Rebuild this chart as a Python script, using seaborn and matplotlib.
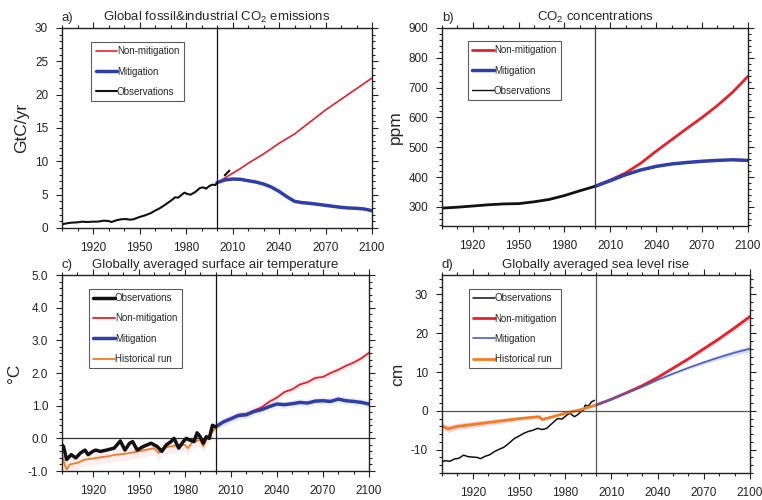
import numpy as np
import pandas as pd
import matplotlib
matplotlib.use("Agg")
import matplotlib.pyplot as plt
from matplotlib.ticker import MultipleLocator, FixedLocator
import seaborn as sns

# ---------------- data ----------------
# a) fossil & industrial CO2 emissions (GtC/yr)
emis_obs_years = [1900, 1903, 1906, 1910, 1913, 1916, 1920, 1923, 1927, 1930, 1932, 1935, 1938, 1941, 1944, 1946,
                  1950, 1953, 1957, 1960, 1963, 1966, 1970, 1973, 1975, 1977, 1979, 1981, 1983, 1986, 1989, 1991,
                  1993, 1995, 1997, 1999, 2000]
emis_obs_vals = [0.55, 0.7, 0.8, 0.85, 0.95, 0.9, 0.95, 0.95, 1.1, 1.05, 0.9, 1.15, 1.3, 1.35, 1.25, 1.3,
                 1.65, 1.85, 2.2, 2.6, 2.95, 3.4, 4.05, 4.6, 4.55, 4.95, 5.3, 5.1, 5.0, 5.4, 6.0, 6.1,
                 5.9, 6.3, 6.5, 6.45, 6.75]
emis_obs2_years = [2005, 2008]
emis_obs2_vals = [7.9, 8.6]
emis_years = [2000, 2005, 2010, 2015, 2020, 2025, 2030, 2035, 2040, 2045, 2050, 2055, 2060, 2065, 2070,
              2075, 2080, 2085, 2090, 2095, 2100]
emis_nonmit = [6.8, 7.5, 8.2, 8.9, 9.7, 10.4, 11.1, 11.9, 12.7, 13.4, 14.1, 15.0, 15.9, 16.8, 17.7,
               18.5, 19.3, 20.1, 20.9, 21.7, 22.5]
emis_mit = [6.8, 7.2, 7.35, 7.3, 7.1, 6.9, 6.6, 6.15, 5.5, 4.7, 4.0, 3.8, 3.7, 3.55, 3.4,
            3.25, 3.1, 3.0, 2.95, 2.85, 2.6]

# b) CO2 concentrations (ppm)
conc_obs_years = [1900, 1910, 1920, 1930, 1940, 1950, 1960, 1970, 1980, 1990, 2000]
conc_obs_vals = [296, 299, 303, 307, 310, 311, 317, 325, 338, 354, 369]
conc_years = [2000, 2010, 2020, 2030, 2040, 2050, 2060, 2070, 2080, 2090, 2100]
conc_nonmit = [369, 390, 414, 447, 487, 525, 563, 600, 640, 685, 738]
conc_mit = [369, 388, 408, 424, 436, 444, 449, 453, 456, 458, 456]

# c) globally averaged surface air temperature (degC)
tas_obs_years = [1900, 1901, 1903, 1906, 1909, 1912, 1915, 1917, 1920, 1922, 1925, 1929, 1934, 1938, 1941, 1944,
                 1946, 1949, 1953, 1958, 1962, 1965, 1968, 1971, 1973, 1976, 1979, 1981, 1983, 1986, 1988,
                 1990, 1992, 1994, 1996, 1998, 2000]
tas_obs_vals = [-0.2, -0.25, -0.65, -0.5, -0.6, -0.45, -0.36, -0.5, -0.4, -0.36, -0.4, -0.36, -0.3, -0.08, -0.36, -0.15,
                -0.1, -0.36, -0.25, -0.15, -0.25, -0.4, -0.2, -0.1, 0.0, -0.3, -0.1, 0.0, -0.05, -0.1, 0.17,
                0.05, -0.15, 0.05, 0.0, 0.4, 0.35]
tas_hist_years = [1900, 1902, 1903, 1905, 1910, 1915, 1920, 1925, 1930, 1935, 1940, 1945, 1950, 1955, 1960,
                  1963, 1965, 1970, 1975, 1980, 1982, 1985, 1990, 1992, 1995, 1998, 2000]
tas_hist_vals = [-0.5, -0.85, -0.95, -0.8, -0.75, -0.65, -0.62, -0.58, -0.55, -0.5, -0.48, -0.44, -0.4, -0.35, -0.3,
                 -0.45, -0.32, -0.25, -0.22, -0.2, -0.3, -0.12, -0.05, -0.25, 0.05, 0.2, 0.3]
tas_hist_spread = [0.15, 0.2, 0.2, 0.2, 0.2, 0.2, 0.2, 0.2, 0.2, 0.2, 0.2, 0.2, 0.2, 0.2, 0.2,
                   0.25, 0.2, 0.2, 0.2, 0.2, 0.2, 0.2, 0.2, 0.2, 0.2, 0.2, 0.2]
tas_years = [2000, 2005, 2010, 2015, 2020, 2025, 2030, 2035, 2040, 2045, 2050, 2055, 2060, 2065, 2070,
             2075, 2080, 2085, 2090, 2095, 2100]
tas_nonmit = [0.35, 0.5, 0.6, 0.72, 0.75, 0.85, 0.95, 1.12, 1.25, 1.42, 1.5, 1.65, 1.72, 1.85, 1.88,
              2.0, 2.1, 2.22, 2.32, 2.45, 2.62]
tas_mit = [0.35, 0.5, 0.6, 0.7, 0.72, 0.82, 0.88, 0.97, 1.05, 1.03, 1.06, 1.1, 1.08, 1.14, 1.15,
           1.13, 1.2, 1.15, 1.13, 1.1, 1.05]
tas_spread = [0.1, 0.12, 0.12, 0.12, 0.12, 0.12, 0.12, 0.12, 0.12, 0.12, 0.12, 0.12, 0.12, 0.12, 0.12,
              0.12, 0.12, 0.12, 0.12, 0.12, 0.12]

# d) globally averaged sea level rise (cm)
slr_obs_years = [1900, 1902, 1905, 1908, 1911, 1914, 1917, 1920, 1923, 1925, 1928, 1931, 1934, 1936, 1940,
                 1943, 1947, 1950, 1953, 1956, 1959, 1962, 1965, 1968, 1971, 1975, 1978, 1981, 1983, 1986,
                 1988, 1990, 1992, 1993, 1995, 1997, 1999]
slr_obs_vals = [-13.2, -12.8, -13.0, -12.4, -12.2, -11.4, -11.8, -11.9, -12.0, -12.3, -11.7, -11.3, -10.5, -10.1, -9.4,
                -8.5, -7.1, -6.5, -5.8, -5.3, -5.0, -4.5, -4.8, -4.5, -3.4, -2.0, -2.1, -1.1, -0.6, -1.5,
                -1.0, -0.3, 0.2, 1.5, 1.2, 2.3, 2.7]
slr_hist_years = [1900, 1902, 1904, 1910, 1920, 1930, 1940, 1950, 1960, 1963, 1965, 1970, 1980, 1990, 2000]
slr_hist_vals = [-3.8, -4.3, -4.6, -4.0, -3.5, -3.0, -2.5, -2.0, -1.6, -1.5, -2.2, -1.7, -0.6, 0.3, 1.5]
slr_hist_spread = [0.8, 0.8, 0.9, 0.8, 0.8, 0.7, 0.6, 0.5, 0.4, 0.4, 0.4, 0.3, 0.3, 0.2, 0.2]
slr_years = [2000, 2010, 2020, 2030, 2040, 2050, 2060, 2070, 2080, 2090, 2100]
slr_nonmit = [1.5, 3.0, 4.7, 6.5, 8.6, 11.0, 13.4, 16.0, 18.6, 21.4, 24.3]
slr_mit = [1.5, 3.0, 4.6, 6.2, 8.0, 9.6, 11.1, 12.5, 13.8, 15.0, 16.0]
slr_spread = [0.1, 0.1, 0.2, 0.2, 0.3, 0.3, 0.4, 0.5, 0.6, 0.7, 0.8]

# ---------------- style ----------------
sns.set_theme(style="ticks")
plt.rcParams["font.family"] = ["Liberation Sans", "DejaVu Sans"]
plt.rcParams["mathtext.fontset"] = "custom"
plt.rcParams["mathtext.rm"] = "Liberation Sans"
plt.rcParams["mathtext.it"] = "Liberation Sans:italic"
plt.rcParams["axes.unicode_minus"] = False

RED = "#e8202a"
BLUE = "#2e3fa8"
ORANGE = "#f47c20"
BLACK = "#111111"
PINK = "#f4a6b4"
LBLUE = "#9fb0e0"

W, H = 762, 500
fig = plt.figure(figsize=(W / 100, H / 100), dpi=100)


def add_ax(l, r, t, b):
    return fig.add_axes([l / W, 1 - b / H, (r - l) / W, (b - t) / H])


axa = add_ax(62, 372, 28, 228)
axb = add_ax(442, 748, 28, 226)
axc = add_ax(62, 369, 275, 471)
axd = add_ax(442, 750, 275, 473)


def line(ax, x, y, color, lw, label=None):
    df = pd.DataFrame({"x": x, "y": y})
    sns.lineplot(data=df, x="x", y="y", ax=ax, color=color, linewidth=lw, label=label,
                 estimator=None, sort=True, legend=bool(label))


def style_axis(ax, ylim, ymajor, yminor, ylabel, letter, title, yfmt=None):
    ax.set_xlim(1900, 2100)
    ax.set_ylim(*ylim)
    ax.xaxis.set_major_locator(FixedLocator([1920, 1950, 1980, 2010, 2040, 2070, 2100]))
    ax.xaxis.set_minor_locator(MultipleLocator(10))
    ax.yaxis.set_major_locator(ymajor)
    ax.yaxis.set_minor_locator(MultipleLocator(yminor))
    if yfmt:
        ax.yaxis.set_major_formatter(yfmt)
    ax.tick_params(which="both", direction="out", top=True, right=True, color="#222222", width=0.8)
    ax.tick_params(which="major", length=4, labelsize=8.5, labelcolor="#222222", pad=6)
    ax.tick_params(which="minor", length=2)
    for s in ax.spines.values():
        s.set_visible(True)
        s.set_linewidth(1.0)
        s.set_color("#222222")
    ax.set_xlabel("")
    ax.set_ylabel(ylabel, fontsize=12.5, labelpad=4)
    ax.set_title(title, fontsize=9.5, pad=5)
    ax.set_title(letter, fontsize=9.5, loc="left", pad=5)


def legend(ax, anchor):
    lg = ax.legend(loc="upper left", bbox_to_anchor=anchor, borderaxespad=0, fontsize=7,
                   frameon=True, fancybox=False, edgecolor="#333333", handlelength=2.2,
                   handletextpad=0.0, labelspacing=1.05, borderpad=0.45)
    lg.get_frame().set_linewidth(0.8)
    return lg


# ---------- a ----------
line(axa, emis_years, emis_nonmit, RED, 1.2, "Non-mitigation")
line(axa, emis_years, emis_mit, BLUE, 2.5, "Mitigation")
line(axa, emis_obs_years, emis_obs_vals, BLACK, 1.5, "Observations")
line(axa, emis_obs2_years, emis_obs2_vals, BLACK, 1.5)
axa.axvline(2000, color=BLACK, lw=0.9)
style_axis(axa, (0, 30), MultipleLocator(5), 1, "GtC/yr", "a)",
           "Global fossil&industrial CO$_2$ emissions")
legend(axa, (0.094, 0.93))

# ---------- b ----------
line(axb, conc_years, conc_nonmit, RED, 2.0, "Non-mitigation")
line(axb, conc_years, conc_mit, BLUE, 2.5, "Mitigation")
line(axb, conc_obs_years, conc_obs_vals, BLACK, 2.0, "Observations")
axb.axvline(2000, color="#444444", lw=0.9)
style_axis(axb, (236, 900), FixedLocator([300, 400, 500, 600, 700, 800, 900]), 20, "ppm", "b)",
           "CO$_2$ concentrations")
lgb = legend(axb, (0.085, 0.934))
lgb.get_lines()[2].set_linewidth(1.0)

# ---------- c ----------
axc.fill_between(tas_hist_years, np.array(tas_hist_vals) - np.array(tas_hist_spread),
                 np.array(tas_hist_vals) + np.array(tas_hist_spread), color=PINK, alpha=0.2, lw=0)
axc.fill_between(tas_years, np.array(tas_nonmit) - np.array(tas_spread),
                 np.array(tas_nonmit) + np.array(tas_spread), color=PINK, alpha=0.18, lw=0)
axc.fill_between(tas_years, np.array(tas_mit) - np.array(tas_spread),
                 np.array(tas_mit) + np.array(tas_spread), color=LBLUE, alpha=0.18, lw=0)
line(axc, tas_obs_years, tas_obs_vals, BLACK, 2.5, "Observations")
line(axc, tas_years, tas_nonmit, RED, 1.3, "Non-mitigation")
line(axc, tas_years, tas_mit, BLUE, 2.5, "Mitigation")
line(axc, tas_hist_years, tas_hist_vals, ORANGE, 1.3, "Historical run")
# keep observations on top
axc.lines[0].set_zorder(4)
axc.axvline(2000, color=BLACK, lw=0.9)
axc.axhline(0, color="#333333", lw=0.9)
style_axis(axc, (-1.0, 5.0), MultipleLocator(1.0), 0.2, "°C", "c)",
           "Globally averaged surface air temperature",
           yfmt=matplotlib.ticker.FormatStrFormatter("%.1f"))
legend(axc, (0.088, 0.929))

# ---------- d ----------
axd.fill_between(slr_hist_years, np.array(slr_hist_vals) - np.array(slr_hist_spread),
                 np.array(slr_hist_vals) + np.array(slr_hist_spread), color=PINK, alpha=0.5, lw=0)
axd.fill_between(slr_years, np.array(slr_nonmit) - np.array(slr_spread),
                 np.array(slr_nonmit) + np.array(slr_spread), color=PINK, alpha=0.4, lw=0)
axd.fill_between(slr_years, np.array(slr_mit) - np.array(slr_spread),
                 np.array(slr_mit) + np.array(slr_spread), color=LBLUE, alpha=0.4, lw=0)
line(axd, slr_obs_years, slr_obs_vals, BLACK, 1.1, "Observations")
line(axd, slr_years, slr_nonmit, RED, 2.0, "Non-mitigation")
line(axd, slr_years, slr_mit, "#4a5cc0", 1.2, "Mitigation")
line(axd, slr_hist_years, slr_hist_vals, ORANGE, 2.0, "Historical run")
axd.axvline(2000, color="#555555", lw=0.9)
axd.axhline(0, color="#555555", lw=0.9)
style_axis(axd, (-16, 35), FixedLocator([-10, 0, 10, 20, 30]), 2, "cm", "d)",
           "Globally averaged sea level rise")
legend(axd, (0.087, 0.929))

fig.savefig("out.png", dpi=100)
